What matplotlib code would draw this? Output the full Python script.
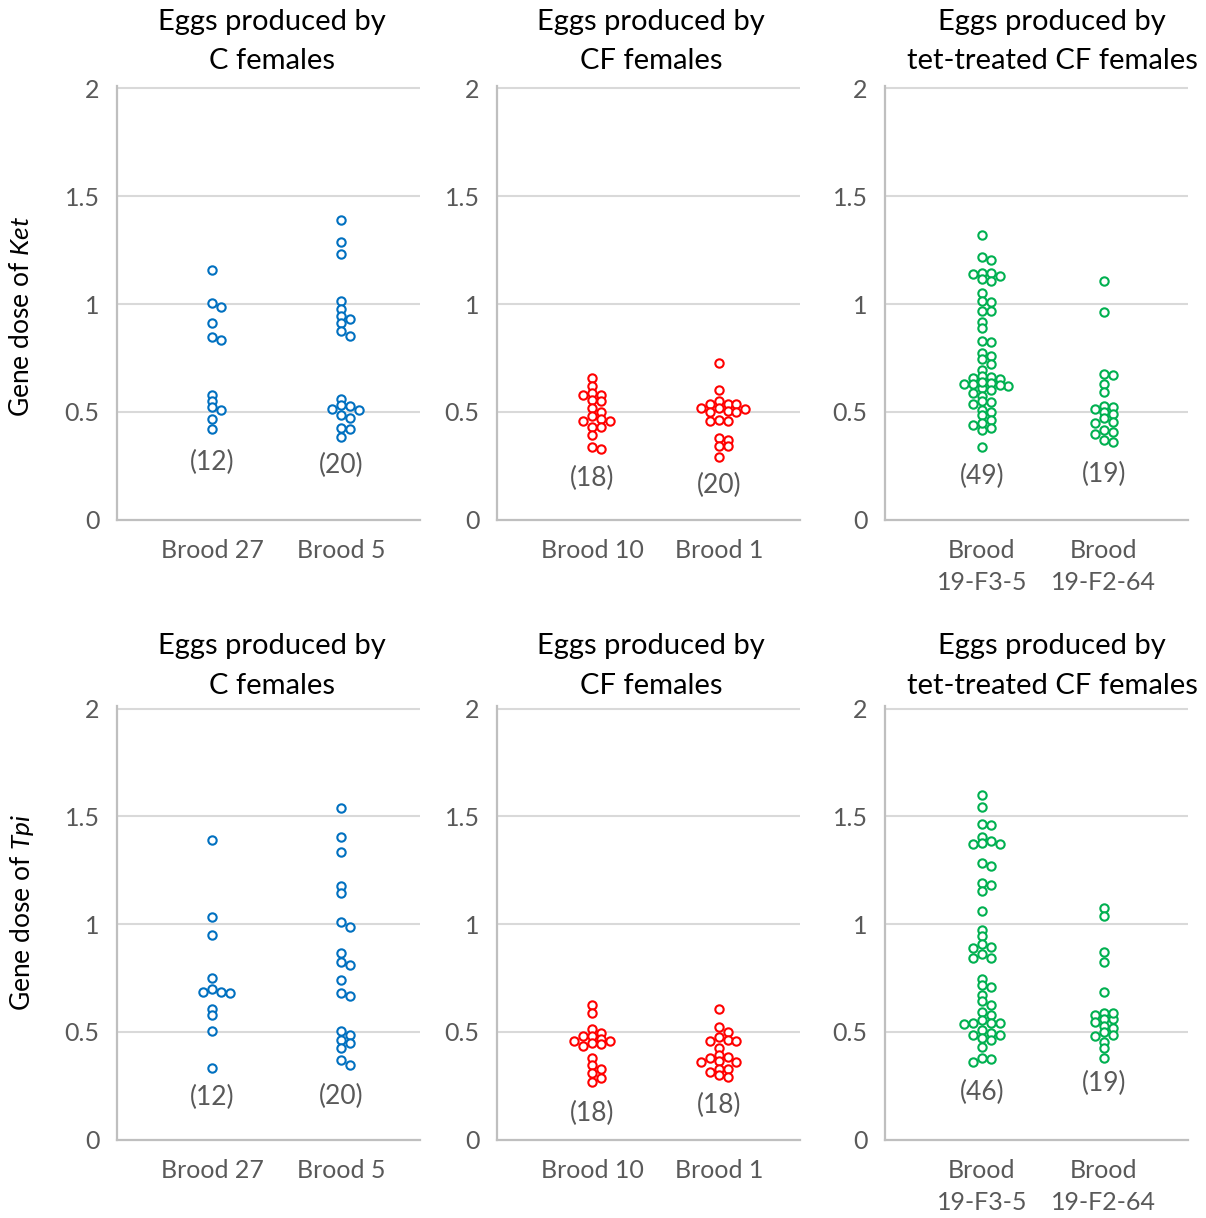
import numpy as np
import matplotlib.pyplot as plt

plt.rcParams['font.family'] = ['Lato', 'DejaVu Sans']
plt.rcParams['mathtext.fontset'] = 'custom'
plt.rcParams['mathtext.rm'] = 'Lato'
plt.rcParams['mathtext.it'] = 'Lato:italic'

W, H = 1206, 1218

# ---------------- data (gene dose per egg) ----------------
ket_c_b27 = [1.159, 1.004, 0.985, 0.914, 0.831, 0.845, 0.577, 0.552, 0.509, 0.520, 0.467, 0.422]
ket_c_b5 = [1.389, 1.287, 1.233, 1.012, 0.978, 0.945, 0.931, 0.914, 0.874, 0.852,
            0.558, 0.527, 0.512, 0.530, 0.509, 0.487, 0.473, 0.419, 0.424, 0.382]
ket_cf_b10 = [0.657, 0.619, 0.589, 0.578, 0.578, 0.555, 0.552, 0.518, 0.497, 0.478,
              0.467, 0.459, 0.459, 0.430, 0.430, 0.394, 0.336, 0.325]
ket_cf_b1 = [0.727, 0.602, 0.548, 0.537, 0.537, 0.537, 0.518, 0.518, 0.515, 0.504,
             0.501, 0.501, 0.458, 0.463, 0.455, 0.379, 0.368, 0.340, 0.340, 0.289]
ket_tet_f3 = [1.322, 1.216, 1.202, 1.143, 1.128, 1.143, 1.108, 1.116, 1.139, 1.051,
              1.009, 1.015, 0.966, 0.966, 0.915, 0.889, 0.830, 0.824, 0.773, 0.757,
              0.745, 0.722, 0.693, 0.662, 0.653, 0.657, 0.665, 0.631, 0.619, 0.611,
              0.631, 0.626, 0.634, 0.639, 0.600, 0.588, 0.575, 0.544, 0.549, 0.534,
              0.507, 0.498, 0.483, 0.460, 0.438, 0.426, 0.415, 0.446, 0.338]
ket_tet_f2 = [1.108, 0.961, 0.670, 0.673, 0.631, 0.593, 0.511, 0.521, 0.526, 0.500,
              0.491, 0.469, 0.449, 0.454, 0.407, 0.413, 0.395, 0.369, 0.359]

tpi_c_b27 = [1.388, 1.031, 0.949, 0.749, 0.685, 0.682, 0.699, 0.684, 0.605, 0.577, 0.503, 0.332]
tpi_c_b5 = [1.540, 1.403, 1.335, 1.176, 1.145, 1.009, 0.986, 0.866, 0.810, 0.823,
            0.739, 0.667, 0.678, 0.503, 0.486, 0.462, 0.446, 0.426, 0.367, 0.346]
tpi_cf_b10 = [0.626, 0.588, 0.515, 0.495, 0.480, 0.480, 0.457, 0.457, 0.468, 0.441,
              0.449, 0.433, 0.376, 0.344, 0.329, 0.307, 0.287, 0.268]
tpi_cf_b1 = [0.606, 0.520, 0.498, 0.475, 0.457, 0.460, 0.457, 0.423, 0.391, 0.383,
             0.376, 0.361, 0.366, 0.361, 0.327, 0.327, 0.315, 0.297, 0.288]
tpi_tet_f3 = [1.600, 1.543, 1.461, 1.464, 1.402, 1.384, 1.371, 1.371, 1.375, 1.283,
              1.268, 1.180, 1.191, 1.155, 1.059, 0.970, 0.942, 0.905, 0.894, 0.889,
              0.862, 0.840, 0.843, 0.747, 0.716, 0.708, 0.670, 0.642, 0.624, 0.593,
              0.577, 0.537, 0.540, 0.553, 0.540, 0.539, 0.484, 0.495, 0.506, 0.472,
              0.484, 0.463, 0.429, 0.379, 0.361, 0.375]
tpi_tet_f2 = [1.075, 1.036, 0.869, 0.823, 0.684, 0.557, 0.588, 0.588, 0.576, 0.560,
              0.545, 0.529, 0.518, 0.500, 0.484, 0.480, 0.453, 0.426, 0.379]

titles = ['Eggs produced by\nC females', 'Eggs produced by\nCF females',
          'Eggs produced by\ntet-treated CF females']
cats = [['Brood 27', 'Brood 5'], ['Brood 10', 'Brood 1'], ['Brood\n19-F3-5', 'Brood\n19-F2-64']]
colors = ['#0070C0', '#FF0000', '#00B050']
ylabels = ['Gene dose of $\\mathit{Ket}$', 'Gene dose of $\\mathit{Tpi}$']

rows = [
    [[ket_c_b27, ket_c_b5], [ket_cf_b10, ket_cf_b1], [ket_tet_f3, ket_tet_f2]],
    [[tpi_c_b27, tpi_c_b5], [tpi_cf_b10, tpi_cf_b1], [tpi_tet_f3, tpi_tet_f2]],
]
count_labels = [
    [['(12)', '(20)'], ['(18)', '(20)'], ['(49)', '(19)']],
    [['(12)', '(20)'], ['(18)', '(18)'], ['(46)', '(19)']],
]
count_y = [
    [[0.265, 0.25], [0.19, 0.158], [0.20, 0.21]],
    [[0.195, 0.20], [0.12, 0.158], [0.22, 0.26]],
]

# ---------------- layout (pixels) ----------------
col_lr = [(117, 420), (497, 800), (885, 1188)]
row_tb = [(88.5, 519.5), (708.5, 1139.5)]
xlims = [(0.264, 2.61), (0.25, 2.64), (0.205, 2.69)]
title_x = [272, 651, 1052]
title_y = [41.5, 666]
ylabel_y = [316, 912]
YTOP = 2.01


def swarm_x(ax, xc, values, step_px=8.8, min_dy=5.0):
    tr = ax.transData
    ys = tr.transform(np.column_stack([np.full(len(values), xc), values]))[:, 1]
    px_per_unit = tr.transform((1, 0))[0] - tr.transform((0, 0))[0]
    slots = np.zeros(len(values))
    placed = []
    for i in np.argsort(-ys, kind='stable'):
        for k in [0, 1, -1, 2, -2, 3, -3, 4, -4, 5, -5]:
            if all(not (s == k and abs(y - ys[i]) < min_dy) for s, y in placed):
                slots[i] = k
                placed.append((k, ys[i]))
                break
    return xc + slots * step_px / px_per_unit


fig = plt.figure(figsize=(W / 100, H / 100), dpi=100)

for r in range(2):
    top, bot = row_tb[r]
    h_px = (bot - top) * YTOP / 2.0
    for c in range(3):
        l, rr = col_lr[c]
        ax = fig.add_axes([l / W, 1 - bot / H, (rr - l) / W, h_px / H])
        ax.set_xlim(*xlims[c])
        ax.set_ylim(0, YTOP)
        for sp in ['top', 'right']:
            ax.spines[sp].set_visible(False)
        for sp in ['left', 'bottom']:
            ax.spines[sp].set_color('#BFBFBF')
            ax.spines[sp].set_linewidth(1.6)
        ax.set_yticks([0, 0.5, 1, 1.5, 2])
        ax.set_yticklabels(['0', '0.5', '1', '1.5', '2'])
        ax.set_xticks([1, 2])
        ax.set_xticklabels(cats[c], linespacing=1.5)
        ax.tick_params(axis='y', length=0, pad=12.5, labelsize=18, labelcolor='#595959')
        ax.tick_params(axis='x', length=0, pad=14, labelsize=18, labelcolor='#595959')
        for yv in [0.5, 1, 1.5, 2]:
            ax.axhline(yv, color='#D9D9D9', lw=1.5, zorder=0)

        for j in range(2):
            vals = rows[r][c][j]
            xs = swarm_x(ax, j + 1, vals)
            ax.plot(xs, vals, 'o', ls='none', mfc='white', mec=colors[c], ms=6, mew=1.5,
                    zorder=3, clip_on=False)
            ax.text(j + 1, count_y[r][c][j], count_labels[r][c][j], ha='center', va='center',
                    fontsize=19, color='#595959')

        fig.text(title_x[c] / W, 1 - title_y[r] / H, titles[c], ha='center', va='center',
                 fontsize=21, color='black', linespacing=1.62)

    fig.text(22 / W, 1 - ylabel_y[r] / H, ylabels[r], rotation=90, ha='center', va='center',
             fontsize=19, color='black')

fig.savefig('out.png', dpi=100)
